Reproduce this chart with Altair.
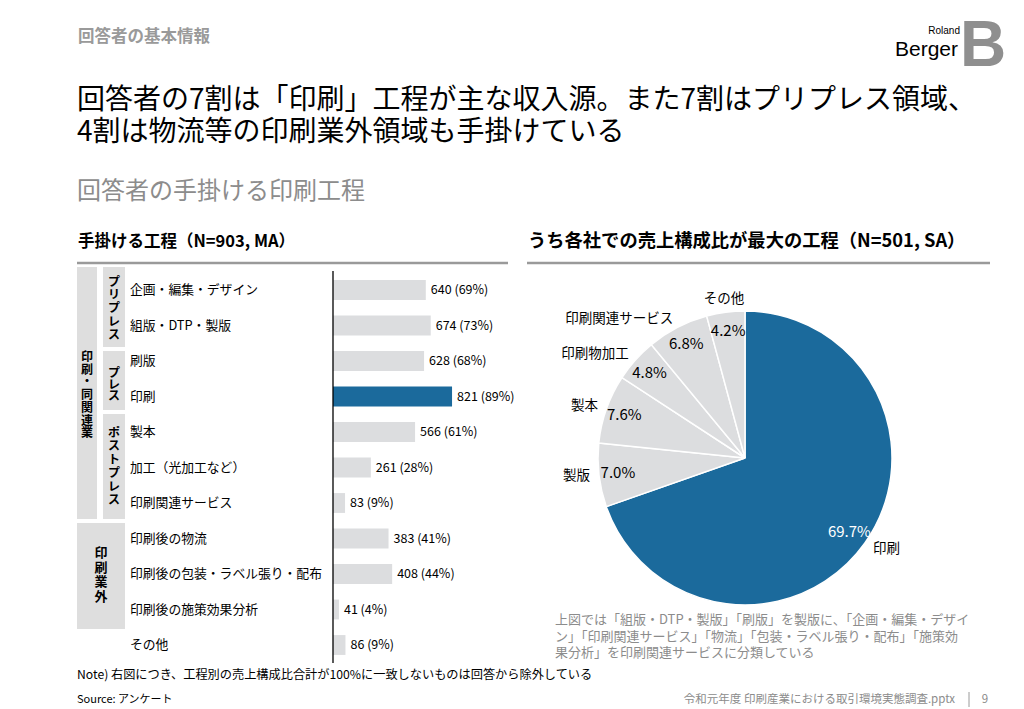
import altair as alt
import pandas as pd

# ---------------- data ----------------
categories = ["企画・編集・デザイン", "組版・DTP・製版", "刷版", "印刷", "製本",
              "加工（光加工など）", "印刷関連サービス", "印刷後の物流",
              "印刷後の包装・ラベル張り・配布", "印刷後の施策効果分析", "その他"]
counts = [640, 674, 628, 821, 566, 261, 83, 383, 408, 41, 86]
percents = [69, 73, 68, 89, 61, 28, 9, 41, 44, 4, 9]

pie_labels = ["印刷", "製版", "製本", "印刷物加工", "印刷関連サービス", "その他"]
pie_shares = [69.7, 7.0, 7.6, 4.8, 6.8, 4.2]
pie_side = ["R", "L", "L", "L", "L", "T"]

# ---------------- styling ----------------
FONT = "Liberation Sans Narrow, Noto Sans CJK JP, sans-serif"
JP = "Noto Sans CJK JP, sans-serif"
BLUE = "#1b6a9c"
BAR_GRAY = "#dcdddf"
BOX_GRAY = "#dedede"
OFF = 8  # page margin


def P(v):
    return v - OFF


one = pd.DataFrame({"t": [""]})


def T(text, x, y, size=13, color="#000000", weight="normal", align="left",
      baseline="middle", font=FONT, line_height=None):
    kw = dict(align=align, baseline=baseline, fontSize=size, font=font,
              fontWeight=weight, color=color, lineBreak="\n")
    if line_height is not None:
        kw["lineHeight"] = line_height
    return alt.Chart(pd.DataFrame({"t": [text]})).mark_text(**kw).encode(
        x=alt.value(P(x)), y=alt.value(P(y)), text="t:N")


def R(x1, y1, x2, y2, color=BOX_GRAY):
    return alt.Chart(one).mark_rect(color=color).encode(
        x=alt.value(P(x1)), x2=alt.value(P(x2)),
        y=alt.value(P(y1)), y2=alt.value(P(y2)))


def H(x1, x2, y, color="#9a9a9a", width=2.5):
    return alt.Chart(one).mark_rule(color=color, strokeWidth=width).encode(
        x=alt.value(P(x1)), x2=alt.value(P(x2)), y=alt.value(P(y)))


layers = []

# ---------------- header ----------------
layers.append(T("回答者の基本情報", 78, 37, size=16.5, color="#9a9a9a", weight="bold", font=JP))
layers.append(T("回答者の7割は「印刷」工程が主な収入源。また7割はプリプレス領域、\n4割は物流等の印刷業外領域も手掛けている",
                77, 101, size=28, line_height=32))
layers.append(T("回答者の手掛ける印刷工程", 77, 192, size=24, color="#8c8c8c", font=JP))
layers.append(T("手掛ける工程（N=903, MA）", 78, 242, size=16.5, weight="bold"))
layers.append(T("うち各社での売上構成比が最大の工程（N=501, SA）", 528, 242, size=18.3, weight="bold"))
layers.append(H(77, 508, 263))
layers.append(H(527, 990, 263))

# logo
layers.append(T("Roland", 960, 31, size=10, align="right", font="Liberation Sans, sans-serif"))
layers.append(T("Berger", 958, 50, size=21, align="right", font="Liberation Sans, sans-serif"))
layers.append(T("B", 983, 47, size=64, align="center", weight="bold", color="#8f8f8f",
                font="Liberation Sans Narrow, Liberation Sans, sans-serif"))

# ---------------- group boxes ----------------
layers.append(R(77, 267, 97, 519))
layers.append(R(103, 267, 125, 347))
layers.append(R(103, 351, 125, 410))
layers.append(R(103, 414, 125, 519))
layers.append(R(77, 523, 125, 629))
layers.append(T("印\n刷\n・\n同\n関\n連\n業", 87, 357, size=12, weight="bold", align="center",
                font=JP, line_height=12.7))
layers.append(T("プ\nリ\nプ\nレ\nス", 114, 282, size=12, weight="bold", align="center",
                font=JP, line_height=13.2))
layers.append(T("プ\nレ\nス", 114, 373, size=12, weight="bold", align="center",
                font=JP, line_height=11.5))
layers.append(T("ポ\nス\nト\nプ\nレ\nス", 114, 433, size=12, weight="bold", align="center",
                font=JP, line_height=13.4))
layers.append(T("印\n刷\n業\n外", 101, 553, size=13, weight="bold", align="center",
                font=JP, line_height=14.7))

# ---------------- bar chart ----------------
bars_df = pd.DataFrame({
    "cat": categories,
    "n": counts,
    "pct": percents,
})
bars_df["label"] = [f"{n} ({p}%)" for n, p in zip(counts, percents)]

xs = alt.Scale(domain=[0, 1000], range=[P(333), P(333) + 145])
ys = alt.Scale(domain=categories, range=[P(272.25), P(662.75)],
               paddingInner=0.44, paddingOuter=0.22)

base = alt.Chart(bars_df)
layers.append(base.mark_bar().encode(
    x=alt.X("n:Q", scale=xs, axis=None),
    y=alt.Y("cat:N", scale=ys, axis=None, sort=categories),
    color=alt.condition(alt.datum.cat == "印刷", alt.value(BLUE), alt.value(BAR_GRAY)),
))
layers.append(base.mark_text(align="left", baseline="middle", dx=5, fontSize=12.5,
                             font=FONT, color="#000000").encode(
    x=alt.X("n:Q", scale=xs, axis=None),
    y=alt.Y("cat:N", scale=ys, axis=None, sort=categories),
    text="label:N",
))
layers.append(base.mark_text(align="left", baseline="middle", fontSize=12.8,
                             font=FONT, color="#000000").encode(
    x=alt.value(P(130)),
    y=alt.Y("cat:N", scale=ys, axis=None, sort=categories),
    text="cat:N",
))
layers.append(alt.Chart(one).mark_rule(color="#000000", strokeWidth=1.3).encode(
    x=alt.datum(0, scale=xs), y=alt.value(P(271)), y2=alt.value(P(663))))

# ---------------- pie chart ----------------
pie_df = pd.DataFrame({
    "label": pie_labels,
    "share": pie_shares,
    "side": pie_side,
    "idx": list(range(len(pie_labels))),
})
pie_df["pct"] = [f"{s:.1f}%" for s in pie_shares]

CX, CY = P(745), P(458)
pbase = alt.Chart(pie_df).encode(
    theta=alt.Theta("share:Q", stack=True),
    order=alt.Order("idx:Q"),
    x=alt.value(CX), y=alt.value(CY),
)
layers.append(pbase.mark_arc(outerRadius=147, stroke="white", strokeWidth=1.5).encode(
    color=alt.condition(alt.datum.label == "印刷", alt.value(BLUE), alt.value(BAR_GRAY))))
layers.append(pbase.mark_text(radius=128, fontSize=15, font=FONT, align="center",
                              baseline="middle").encode(
    text="pct:N",
    color=alt.condition(alt.datum.label == "印刷", alt.value("#ffffff"), alt.value("#000000"))))
layers.append(pbase.transform_calculate(
    lt="datum.side == 'L' ? datum.label : ''").mark_text(
    radius=156, fontSize=13.5, font=JP, align="right", baseline="middle", color="#000000").encode(
    text="lt:N"))
layers.append(pbase.transform_calculate(
    lt="datum.side == 'R' ? datum.label : ''").mark_text(
    radius=157, fontSize=13.5, font=JP, align="left", baseline="middle", color="#000000").encode(
    text="lt:N"))
layers.append(pbase.transform_calculate(
    lt="datum.side == 'T' ? datum.label : ''").mark_text(
    radius=160, fontSize=13.5, font=JP, align="center", baseline="middle", color="#000000").encode(
    text="lt:N"))

layers.append(T("上図では「組版・DTP・製版」「刷版」を製版に、「企画・編集・デザイ\nン」「印刷関連サービス」「物流」「包装・ラベル張り・配布」「施策効\n果分析」を印刷関連サービスに分類している",
                555, 620, size=13, color="#8c8c8c", line_height=16.5))

# ---------------- footer ----------------
layers.append(T("Note) 右図につき、工程別の売上構成比合計が100%に一致しないものは回答から除外している",
                77, 675, size=12.2))
layers.append(T("Source: アンケート", 77, 700, size=11))
layers.append(T("令和元年度 印刷産業における取引環境実態調査.pptx", 955, 700, size=11.5,
                color="#8c8c8c", align="right"))
layers.append(alt.Chart(one).mark_rule(color="#9a9a9a", strokeWidth=1).encode(
    x=alt.value(P(969)), y=alt.value(P(692)), y2=alt.value(P(707))))
layers.append(T("9", 985, 700, size=11.5, color="#8c8c8c", align="center"))

chart = alt.layer(*layers).properties(
    width=1008, height=701,
    autosize=alt.AutoSizeParams(type="none"),
    padding=0,
).configure(background="white").configure_view(stroke=None)

chart.save("out.html", embed_options={"renderer": "svg", "actions": False})
